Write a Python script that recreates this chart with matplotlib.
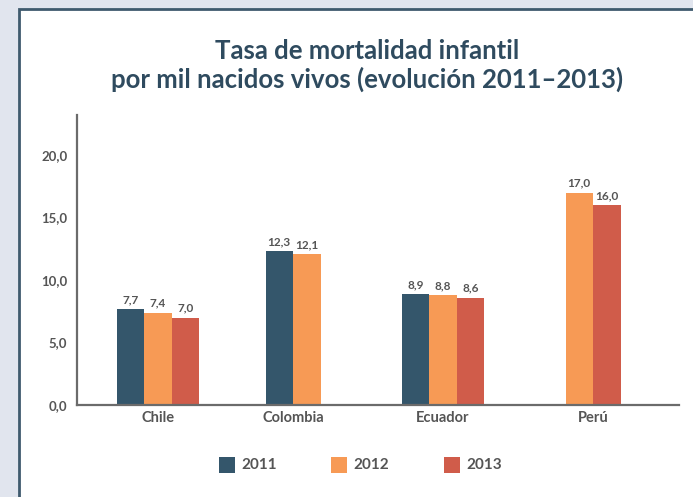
import matplotlib.pyplot as plt
from matplotlib.patches import Rectangle

countries = ["Chile", "Colombia", "Ecuador", "Perú"]
years = ["2011", "2012", "2013"]
v2011 = [7.7, 12.3, 8.9, None]
v2012 = [7.4, 12.1, 8.8, 17.0]
v2013 = [7.0, None, 8.6, 16.0]
yticks = [0, 5, 10, 15, 20]

colors = ["#34566b", "#f79a55", "#d05c4a"]
text_c = "#555555"
title_c = "#2f4b5f"

plt.rcParams["font.family"] = ["Lato", "DejaVu Sans"]

W, H = 693, 497
fig = plt.figure(figsize=(W / 100, H / 100), dpi=100)
fig.patch.set_facecolor("#e1e5ee")
# white panel with dark border, running off the right and bottom edges
fig.patches.append(Rectangle((19 / W, -0.1), 1.2, 1.1 - 9 / H, transform=fig.transFigure,
                             facecolor="white", edgecolor="#3f5a6e", linewidth=2, zorder=-1))

left, right, bottom, top = 77, 679, 405, 115
ax = fig.add_axes([left / W, 1 - bottom / H, (right - left) / W, (bottom - top) / H])
ax.set_facecolor("none")

# group centres in pixel units along the x axis
centers = [158, 293, 443, 593]
bw = 27.5
series = [v2011, v2012, v2013]
for i, c in enumerate(countries):
    present = [(k, s[i]) for k, s in enumerate(series) if s[i] is not None]
    n = len(present)
    x0 = centers[i] - n * bw / 2
    for j, (k, val) in enumerate(present):
        x = x0 + j * bw + bw / 2
        ax.bar(x, val, width=bw, color=colors[k], linewidth=0)
        ax.text(x, val + 0.3, f"{val:.1f}".replace(".", ","), ha="center", va="bottom",
                fontsize=8.5, fontweight="bold", color=text_c)

ax.set_xlim(left, right)
ax.set_ylim(0, 23.2)
ax.set_xticks(centers)
ax.set_xticklabels(countries, fontsize=10.5, fontweight="bold", color=text_c)
ax.set_yticks(yticks)
ax.set_yticklabels([f"{t:.1f}".replace(".", ",") for t in yticks],
                   fontsize=9.5, fontweight="bold", color=text_c)
ax.tick_params(length=0, pad=7)
ax.tick_params(axis="x", pad=4)
for s in ["top", "right"]:
    ax.spines[s].set_visible(False)
for s in ["left", "bottom"]:
    ax.spines[s].set_color("#6b6b6b")
    ax.spines[s].set_linewidth(1.6)

fig.text(367 / W, 1 - 51 / H, "Tasa de mortalidad infantil", ha="center", va="center",
         fontsize=18.5, fontweight="bold", color=title_c)
fig.text(367 / W, 1 - 79 / H, "por mil nacidos vivos (evolución 2011–2013)", ha="center",
         va="center", fontsize=18.5, fontweight="bold", color=title_c)

# legend
leg_x = [219, 331, 444]
for k, y in enumerate(years):
    fig.patches.append(Rectangle((leg_x[k] / W, 1 - 473 / H), 16 / W, 16 / H,
                                 transform=fig.transFigure, facecolor=colors[k],
                                 edgecolor="none"))
    fig.text((leg_x[k] + 22) / W, 1 - 465 / H, y, ha="left", va="center",
             fontsize=11, fontweight="bold", color=text_c)

fig.savefig("out.png", dpi=100, facecolor=fig.get_facecolor())
